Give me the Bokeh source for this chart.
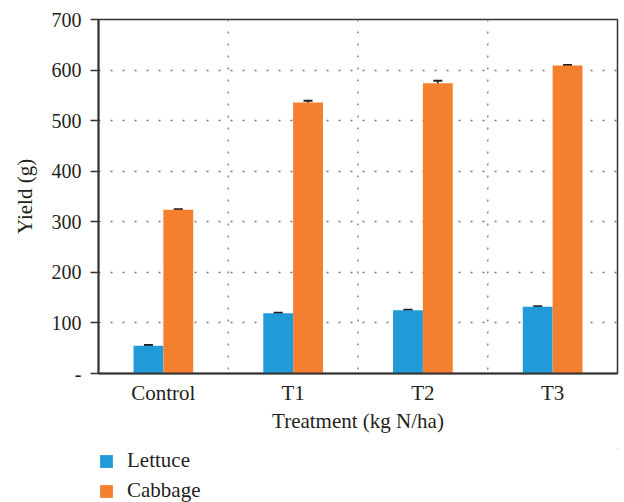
from bokeh.plotting import figure
from bokeh.layouts import column
from bokeh.models import (ColumnDataSource, FactorRange, Range1d, Whisker, TeeHead,
                          Legend, LegendItem, Span, FixedTicker)
from bokeh.transform import dodge
from bokeh.embed import file_html
from bokeh.resources import INLINE

treatments = ["Control", "T1", "T2", "T3"]
lettuce = [55, 119, 125, 132]
cabbage = [324, 536, 574, 609]
lettuce_err = [1.5, 1.0, 1.0, 1.0]
cabbage_err = [1.0, 3.5, 5.0, 1.0]
y_ticks = [0, 100, 200, 300, 400, 500, 600, 700]
series_names = ["Lettuce", "Cabbage"]

FONT = "Liberation Serif"
TXT = "#231f20"
BLUE = "#209bd7"
ORANGE = "#f47f2e"

src = ColumnDataSource(dict(
    cat=treatments,
    lettuce=lettuce,
    cabbage=cabbage,
    l_up=[v + e for v, e in zip(lettuce, lettuce_err)],
    l_lo=[v - e for v, e in zip(lettuce, lettuce_err)],
    c_up=[v + e for v, e in zip(cabbage, cabbage_err)],
    c_lo=[v - e for v, e in zip(cabbage, cabbage_err)],
))

p = figure(x_range=FactorRange(*treatments, range_padding=0), y_range=Range1d(0, 700),
           width=624, height=440, output_backend="svg", toolbar_location=None,
           min_border_left=98, min_border_top=19, min_border_right=7, min_border_bottom=67)

p.vbar(x=dodge("cat", -0.115, range=p.x_range), top="lettuce", width=0.23,
       source=src, fill_color=BLUE, line_color=None)
p.vbar(x=dodge("cat", 0.115, range=p.x_range), top="cabbage", width=0.23,
       source=src, fill_color=ORANGE, line_color=None)

for base, up, lo in [(-0.115, "l_up", "l_lo"), (0.115, "c_up", "c_lo")]:
    w = Whisker(source=src, base=dodge("cat", base, range=p.x_range), upper=up, lower=lo,
                line_color=TXT, line_width=1.5,
                upper_head=TeeHead(size=9, line_width=2, line_color=TXT),
                lower_head=TeeHead(size=9, line_width=2, line_color=TXT))
    p.add_layout(w)

# vertical dotted separators between categories
for loc in [1, 2, 3]:
    p.add_layout(Span(location=loc, dimension="height", line_color="#888888",
                      line_width=1.5, line_dash="2 10"))

p.xgrid.grid_line_color = None
p.ygrid.ticker = FixedTicker(ticks=y_ticks)
p.ygrid.grid_line_color = "#777777"
p.ygrid.grid_line_width = 1.5
p.ygrid.grid_line_dash = "2 10"

p.outline_line_color = "#333333"
p.outline_line_width = 1.5

# y axis
p.yaxis.ticker = FixedTicker(ticks=y_ticks)
p.yaxis.major_label_overrides = {0: "-"}
p.yaxis.axis_label = "Yield (g)"
p.yaxis.minor_tick_line_color = None
p.yaxis.major_tick_in = 0
p.yaxis.major_tick_out = 8
p.yaxis.major_label_standoff = 9
p.yaxis.axis_label_standoff = 12

# x axis
p.xaxis.axis_label = "Treatment (kg N/ha)"
p.xaxis.major_tick_in = 0
p.xaxis.major_tick_out = 0
p.xaxis.major_label_standoff = 7
p.xaxis.axis_label_standoff = 1

for ax in [p.xaxis[0], p.yaxis[0]]:
    ax.axis_line_color = "#333333"
    ax.axis_line_width = 2
    ax.major_tick_line_color = "#333333" if ax is p.yaxis[0] else None
    ax.major_tick_line_width = 1.5
    ax.major_label_text_font = FONT
    ax.major_label_text_color = TXT
    ax.axis_label_text_font = FONT
    ax.axis_label_text_font_size = "21px"
    ax.axis_label_text_font_style = "normal"
    ax.axis_label_text_color = TXT
p.xaxis.major_label_text_font_size = "21px"
p.yaxis.major_label_text_font_size = "20px"

# legend panel below the chart (swatch renderers placed far outside its visible frame)
lg = figure(x_range=FactorRange(*treatments), y_range=Range1d(-2, -1),
            width=624, height=62, output_backend="svg", toolbar_location=None,
            min_border_left=98, min_border_top=8, min_border_right=0, min_border_bottom=0)
lg.axis.visible = False
lg.grid.grid_line_color = None
lg.outline_line_color = None
sw1 = lg.vbar(x=dodge("cat", 100, range=lg.x_range), top="lettuce", bottom="lettuce",
              width=0.2, source=src, fill_color=BLUE, line_color=None)
sw2 = lg.vbar(x=dodge("cat", 100, range=lg.x_range), top="cabbage", bottom="cabbage",
              width=0.2, source=src, fill_color=ORANGE, line_color=None)
legend = Legend(items=[LegendItem(label=series_names[0], renderers=[sw1], index=0),
                       LegendItem(label=series_names[1], renderers=[sw2], index=0)],
                orientation="vertical", location="top_left",
                glyph_width=16, glyph_height=16, label_standoff=13, spacing=5,
                padding=0, margin=0, border_line_color=None, background_fill_alpha=0,
                label_text_font=FONT, label_text_font_size="21px", label_text_color=TXT)
lg.add_layout(legend, "center")

open("out.html", "w").write(file_html(column(p, lg, spacing=0), INLINE))
